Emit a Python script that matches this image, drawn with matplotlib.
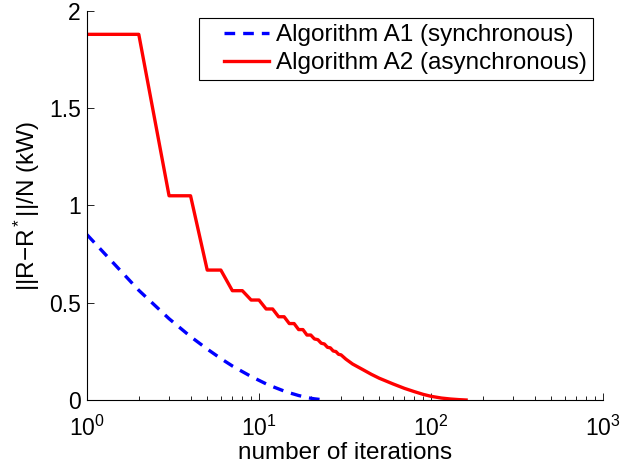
import matplotlib
matplotlib.use("Agg")
import matplotlib.pyplot as plt
import numpy as np

plt.rcParams['font.family'] = ['Liberation Sans', 'DejaVu Sans']
plt.rcParams['mathtext.fontset'] = 'custom'
plt.rcParams['mathtext.rm'] = 'Liberation Sans'
plt.rcParams['mathtext.it'] = 'Liberation Sans'

# Algorithm A1 (synchronous)
a1_iter = [1, 2, 3, 4, 5, 6, 7, 8, 9, 10, 11, 12, 13, 14, 15, 16, 17, 18, 19,
           20, 21, 22, 23, 24, 25]
a1_vals = [0.85, 0.564, 0.418, 0.326, 0.262, 0.213, 0.175, 0.146, 0.121, 0.101,
           0.083, 0.069, 0.057, 0.046, 0.037, 0.030, 0.023, 0.018, 0.013, 0.009,
           0.006, 0.004, 0.002, 0.001, 0.0]

# Algorithm A2 (asynchronous)
a2_iter = [1, 2, 3, 4, 5, 6, 7, 8, 9, 10, 11, 12, 13, 14, 15, 16, 17, 18, 19, 20,
           21, 22, 23, 24, 25, 26, 27, 28, 29, 30, 32, 35, 40, 45, 50, 60, 70, 80,
           90, 100, 115, 130, 145, 160]
a2_vals = [1.88, 1.88, 1.05, 1.05, 0.668, 0.668, 0.562, 0.562, 0.514, 0.514,
           0.468, 0.468, 0.428, 0.428, 0.393, 0.393, 0.362, 0.362, 0.334, 0.334,
           0.314, 0.310, 0.292, 0.288, 0.271, 0.268, 0.252, 0.249, 0.235, 0.232,
           0.21, 0.185, 0.157, 0.132, 0.112, 0.083, 0.060, 0.043,
           0.029, 0.019, 0.010, 0.005, 0.002, 0.0]

labels = ['Algorithm A1 (synchronous)', 'Algorithm A2 (asynchronous)']

FS = 17.5
TFS = 16.5
fig = plt.figure(figsize=(6.28, 4.68), dpi=100)
ax = fig.add_axes([87/628, 1 - 400/468, (603-87)/628, (400-11)/468])

ax.plot(a1_iter, a1_vals, color='#0000ff', lw=2.4, linestyle=(0, (3.2, 2.4)),
        label=labels[0])
ax.plot(a2_iter, a2_vals, color='#ff0000', lw=2.4, label=labels[1])

ax.set_xscale('log')
ax.set_xlim(1, 1000)
ax.set_ylim(0, 2)
ax.set_yticks([0, 0.5, 1, 1.5, 2])
ax.set_yticklabels(['0', '0.5', '1', '1.5', '2'])

for s in ['top', 'right']:
    ax.spines[s].set_visible(False)
for s in ['left', 'bottom']:
    ax.spines[s].set_linewidth(0.8)

ax.tick_params(axis='both', which='both', direction='in', labelsize=TFS)
ax.tick_params(axis='both', which='major', length=5, width=0.6)
ax.tick_params(axis='both', which='minor', length=3, width=0.6)
ax.tick_params(axis='x', which='major', pad=11)
ax.tick_params(axis='y', which='major', pad=4.5)

ax.set_xlabel('number of iterations', fontsize=FS, labelpad=1)
ax.set_ylabel('||R\u2212R$^*$||/N (kW)', fontsize=FS, labelpad=5)

leg = ax.legend(loc='upper right', bbox_to_anchor=((593-87)/516, (400-18)/389),
                fontsize=FS, frameon=True, fancybox=False, framealpha=1,
                edgecolor='black', handlelength=2.63, handletextpad=0.29,
                borderpad=0.25, labelspacing=0.25, borderaxespad=0)
leg.get_frame().set_linewidth(0.8)
# inset the legend handle lines (MATLAB-style left margin)
for ln in leg.get_lines():
    xd = np.asarray(ln.get_xdata(), dtype=float)
    ln.set_xdata(np.linspace(xd[0] + 13.7, xd[-1], len(xd)))

fig.savefig('out.png', dpi=100)
